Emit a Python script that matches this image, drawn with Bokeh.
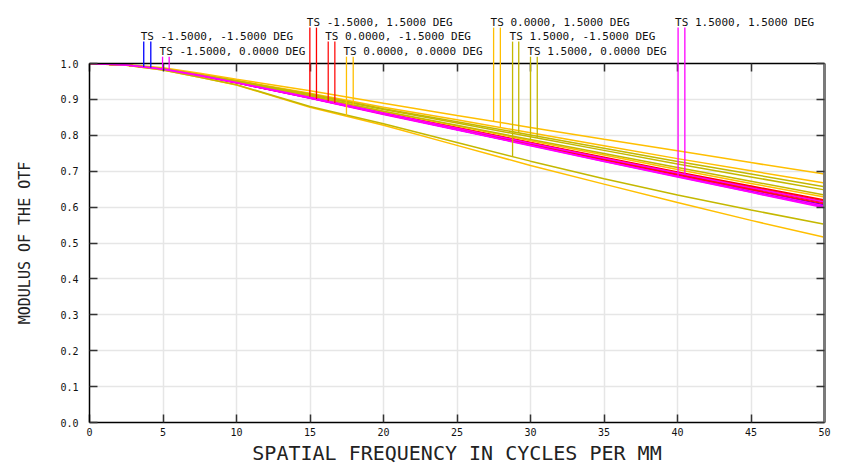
from bokeh.plotting import figure
from bokeh.models import LinearAxis, FixedTicker, PrintfTickFormatter, Range1d
from bokeh.core.properties import value
from bokeh.embed import file_html
from bokeh.resources import INLINE
import numpy as np

# ---------------- data ----------------
freq = [0, 2.5, 5, 7.5, 10, 15, 20, 25, 30, 35, 40, 45, 50]

field_labels = [
    "TS -1.5000, -1.5000 DEG",
    "TS -1.5000, 0.0000 DEG",
    "TS -1.5000, 1.5000 DEG",
    "TS 0.0000, -1.5000 DEG",
    "TS 0.0000, 0.0000 DEG",
    "TS 0.0000, 1.5000 DEG",
    "TS 1.5000, -1.5000 DEG",
    "TS 1.5000, 0.0000 DEG",
    "TS 1.5000, 1.5000 DEG",
]
field_colors = ["#0000ff", "#ff00ff", "#ff0000", "#ff1010", "#ffbf00",
                "#ffbf00", "#c4b800", "#c4b800", "#ff00ff"]

mtf_tan = [
    [1.000, 0.996, 0.985, 0.967, 0.947, 0.905, 0.861, 0.818, 0.775, 0.732, 0.690, 0.648, 0.606],
    [1.000, 0.996, 0.984, 0.966, 0.946, 0.903, 0.858, 0.815, 0.771, 0.727, 0.684, 0.641, 0.598],
    [1.000, 0.996, 0.985, 0.967, 0.948, 0.907, 0.863, 0.822, 0.780, 0.739, 0.698, 0.659, 0.620],
    [1.000, 0.996, 0.985, 0.967, 0.948, 0.906, 0.862, 0.821, 0.779, 0.737, 0.696, 0.656, 0.617],
    [1.000, 0.995, 0.982, 0.962, 0.940, 0.878, 0.828, 0.772, 0.716, 0.664, 0.613, 0.563, 0.516],
    [1.000, 0.997, 0.988, 0.973, 0.956, 0.924, 0.889, 0.855, 0.822, 0.789, 0.757, 0.724, 0.692],
    [1.000, 0.995, 0.982, 0.962, 0.941, 0.880, 0.832, 0.780, 0.728, 0.679, 0.634, 0.592, 0.552],
    [1.000, 0.996, 0.985, 0.967, 0.949, 0.910, 0.867, 0.828, 0.788, 0.749, 0.710, 0.672, 0.634],
    [1.000, 0.996, 0.984, 0.966, 0.946, 0.904, 0.859, 0.816, 0.772, 0.728, 0.685, 0.642, 0.600],
]
mtf_sag = [
    [1.000, 0.996, 0.985, 0.967, 0.947, 0.904, 0.860, 0.816, 0.773, 0.730, 0.687, 0.644, 0.602],
    [1.000, 0.996, 0.985, 0.966, 0.946, 0.904, 0.859, 0.816, 0.773, 0.730, 0.688, 0.646, 0.604],
    [1.000, 0.996, 0.985, 0.967, 0.947, 0.905, 0.861, 0.819, 0.776, 0.734, 0.692, 0.652, 0.612],
    [1.000, 0.996, 0.985, 0.967, 0.947, 0.905, 0.860, 0.818, 0.775, 0.732, 0.690, 0.649, 0.609],
    [1.000, 0.996, 0.985, 0.967, 0.949, 0.909, 0.866, 0.826, 0.785, 0.745, 0.705, 0.666, 0.628],
    [1.000, 0.996, 0.986, 0.970, 0.953, 0.917, 0.878, 0.843, 0.807, 0.771, 0.735, 0.701, 0.667],
    [1.000, 0.996, 0.986, 0.969, 0.952, 0.915, 0.874, 0.838, 0.801, 0.764, 0.727, 0.692, 0.657],
    [1.000, 0.996, 0.985, 0.968, 0.951, 0.913, 0.872, 0.834, 0.796, 0.758, 0.720, 0.684, 0.648],
    [1.000, 0.996, 0.985, 0.967, 0.947, 0.906, 0.862, 0.820, 0.778, 0.736, 0.695, 0.654, 0.614],
]

# legend marker frequencies (where each field's T / S leader lines drop)
legend_freq_tan = [3.69, 4.97, 14.99, 16.24, 17.48, 27.49, 28.78, 30.00, 40.04]
legend_freq_sag = [4.17, 5.42, 15.44, 16.69, 17.94, 27.95, 29.20, 30.46, 40.50]
legend_row = [1, 2, 0, 1, 2, 0, 1, 2, 0]

x_ticks = [0, 5, 10, 15, 20, 25, 30, 35, 40, 45, 50]
y_ticks = [0.0, 0.1, 0.2, 0.3, 0.4, 0.5, 0.6, 0.7, 0.8, 0.9, 1.0]

# ---------------- layout constants ----------------
FONT = "DejaVu Sans Mono"
row_line_top = [1.100, 1.061, 1.019]
row_text_base = [1.114, 1.074, 1.033]

p = figure(width=860, height=469, x_range=Range1d(0, 50), y_range=Range1d(0, 1),
           output_backend="svg", toolbar_location=None,
           min_border_left=89, min_border_right=36, min_border_top=63,
           min_border_bottom=47, outline_line_color=None,
           background_fill_color="white", border_fill_color="white")

# grids
p.xgrid.ticker = FixedTicker(ticks=x_ticks)
p.ygrid.ticker = FixedTicker(ticks=y_ticks)
for g in (p.xgrid, p.ygrid):
    g.grid_line_color = "#e6e6e6"
    g.grid_line_width = 1.5

def style_axis(ax, color="black", width=1.5):
    ax.major_tick_in = 8
    ax.major_tick_out = 0
    ax.minor_tick_in = 0
    ax.minor_tick_out = 0
    ax.axis_line_color = color
    ax.axis_line_width = width
    ax.major_tick_line_color = "#333333"
    ax.major_tick_line_width = 1.5
    ax.major_label_text_font = FONT
    ax.major_label_text_font_size = "10px"
    ax.major_label_text_color = "#111111"
    ax.axis_label_text_font = FONT
    ax.axis_label_text_font_style = "normal"
    ax.axis_label_text_color = "#222222"

xa = p.xaxis[0]
xa.ticker = FixedTicker(ticks=x_ticks)
xa.formatter = PrintfTickFormatter(format="%d")
style_axis(xa)
xa.axis_label = "SPATIAL FREQUENCY IN CYCLES PER MM"
xa.axis_label_text_font_size = "20px"
xa.major_label_standoff = 5
xa.axis_label_standoff = 2

ya = p.yaxis[0]
ya.ticker = FixedTicker(ticks=y_ticks)
ya.formatter = PrintfTickFormatter(format="%.1f")
style_axis(ya)
ya.axis_label = "MODULUS OF THE OTF"
ya.axis_label_text_font_size = "15px"
ya.major_label_standoff = 11
ya.axis_label_standoff = 23

ra = LinearAxis(ticker=FixedTicker(ticks=y_ticks),
                major_label_overrides={t: "" for t in y_ticks})
style_axis(ra, color="#7a7a7a", width=3)
p.add_layout(ra, "right")

ta = LinearAxis(ticker=FixedTicker(ticks=x_ticks),
                major_label_overrides={t: "" for t in x_ticks})
style_axis(ta)
p.add_layout(ta, "above")

# curves
for i in range(len(field_labels)):
    c = field_colors[i]
    p.line(freq, mtf_tan[i], line_color=c, line_width=1.5)
    p.line(freq, mtf_sag[i], line_color=c, line_width=1.5)

# legend leader lines and labels
x0s, y0s, x1s, y1s, cols = [], [], [], [], []
tx, ty, tt = [], [], []
for i in range(len(field_labels)):
    r = legend_row[i]
    for fx, curve in ((legend_freq_tan[i], mtf_tan[i]), (legend_freq_sag[i], mtf_sag[i])):
        x0s.append(fx); x1s.append(fx)
        y0s.append(row_line_top[r])
        y1s.append(float(np.interp(fx, freq, curve)))
        cols.append(field_colors[i])
    tx.append(legend_freq_tan[i]); ty.append(row_text_base[r]); tt.append(field_labels[i])

seg = p.segment(x0=x0s, y0=y0s, x1=x1s, y1=y1s, line_color=cols, line_width=1.3)
seg.level = "overlay"
txt = p.text(x=tx, y=ty, text=tt, text_font=value(FONT), text_font_size="11px",
             text_color="#111111", text_baseline="alphabetic", text_align="left",
             x_offset=-3)
txt.level = "overlay"

with open("out.html", "w") as f:
    f.write(file_html(p, INLINE))
